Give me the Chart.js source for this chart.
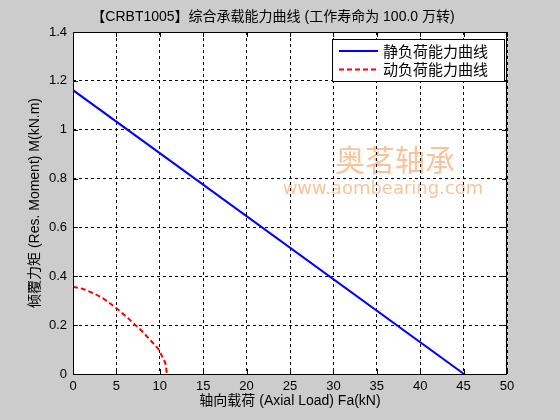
<!DOCTYPE html>
<html>
<head>
<meta charset="utf-8">
<script src="https://cdn.jsdelivr.net/npm/chart.js@4.4.1/dist/chart.umd.min.js"></script>
<style>
  html, body { margin: 0; padding: 0; background: #cccccc; }
  #wrap { width: 560px; height: 420px; }
</style>
</head>
<body>
<div id="wrap"><canvas id="chart" width="560" height="420"></canvas></div>
<script>
const titleText = '【CRBT1005】综合承载能力曲线 (工作寿命为 100.0 万转)';
const xTitle = '轴向载荷 (Axial Load) Fa(kN)';
const yTitle = '倾覆力矩 (Res. Moment) M(kN.m)';
const seriesLabels = ['静负荷能力曲线', '动负荷能力曲线'];

const xTicks = [0, 5, 10, 15, 20, 25, 30, 35, 40, 45, 50];
const yTicks = [0, 0.2, 0.4, 0.6, 0.8, 1, 1.2, 1.4];

// static load curve (straight line)
const staticLoad = [0, 45.05];
const staticMoment = [1.162, 0];

// dynamic load curve
const dynamicLoad = [0, 1.15, 2.1, 3.0, 3.85, 5.0, 6.35, 7.2, 7.9, 9.0, 9.9, 10.37, 10.68, 10.82];
const dynamicMoment = [0.357, 0.348, 0.334, 0.319, 0.300, 0.269, 0.228, 0.200, 0.177, 0.135, 0.098, 0.064, 0.037, 0];

const latinCjk = "'Liberation Sans', 'Noto Sans CJK SC', sans-serif";
const textColor = '#000000';

function toPoints(xs, ys) {
  return xs.map((x, i) => ({ x: x, y: ys[i] }));
}

// white plot area + watermark, grid is drawn on top of it
const backdropPlugin = {
  id: 'backdrop',
  beforeDraw(chart) {
    const { ctx, chartArea: a } = chart;
    ctx.save();
    ctx.fillStyle = '#ffffff';
    ctx.fillRect(a.left, a.top, a.right - a.left, a.bottom - a.top);
    ctx.fillStyle = '#f9c49c';
    ctx.textAlign = 'center';
    ctx.textBaseline = 'middle';
    ctx.font = "30px 'Noto Sans CJK SC', sans-serif";
    ctx.fillText('奥茗轴承', 395, 160);
    ctx.font = "18px 'DejaVu Sans', sans-serif";
    ctx.fillText('www.aombearing.com', 383, 189);
    ctx.restore();
  }
};

// box, inward ticks, title and legend
const framePlugin = {
  id: 'frame',
  afterDraw(chart) {
    const { ctx, chartArea: a, scales } = chart;
    ctx.save();
    ctx.strokeStyle = '#000000';
    ctx.lineWidth = 1;
    ctx.setLineDash([]);
    ctx.strokeRect(a.left + 0.5, a.top + 0.5, a.right - a.left - 1, a.bottom - a.top);

    const tl = 5;
    ctx.beginPath();
    xTicks.forEach(v => {
      const px = Math.round(scales.x.getPixelForValue(v)) + 0.5;
      ctx.moveTo(px, a.bottom); ctx.lineTo(px, a.bottom - tl);
      ctx.moveTo(px, a.top); ctx.lineTo(px, a.top + tl);
    });
    yTicks.forEach(v => {
      const py = Math.round(scales.y.getPixelForValue(v)) + 0.5;
      ctx.moveTo(a.left, py); ctx.lineTo(a.left + tl, py);
      ctx.moveTo(a.right, py); ctx.lineTo(a.right - tl, py);
    });
    ctx.stroke();

    // title
    ctx.fillStyle = textColor;
    ctx.font = "14px " + latinCjk;
    ctx.textAlign = 'center';
    ctx.textBaseline = 'middle';
    ctx.fillText(titleText, 273, 17);

    // legend
    const lx = 332, ly = 39, lw = 172, lh = 42;
    ctx.fillStyle = '#ffffff';
    ctx.fillRect(lx, ly, lw, lh);
    ctx.strokeRect(lx + 0.5, ly + 0.5, lw, lh);
    chart.data.datasets.forEach((ds, i) => {
      const y = 51 + i * 18.5;
      ctx.strokeStyle = ds.borderColor;
      ctx.lineWidth = 2;
      ctx.setLineDash(ds.borderDash || []);
      ctx.beginPath();
      ctx.moveTo(339, y); ctx.lineTo(378, y);
      ctx.stroke();
      ctx.setLineDash([]);
      ctx.fillStyle = textColor;
      ctx.textAlign = 'left';
      ctx.font = "15px 'Noto Sans CJK SC', sans-serif";
      ctx.fillText(ds.label, 383, y);
    });
    ctx.restore();
  }
};

const tickLabel = v => String(+Number(v).toFixed(1));

const ctx = document.getElementById('chart').getContext('2d');
new Chart(ctx, {
  type: 'line',
  data: {
    datasets: [{
      label: seriesLabels[0],
      data: toPoints(staticLoad, staticMoment),
      borderColor: '#0000ff',
      borderWidth: 2,
      pointRadius: 0,
      fill: false
    }, {
      label: seriesLabels[1],
      data: toPoints(dynamicLoad, dynamicMoment),
      borderColor: '#ff0000',
      borderWidth: 2,
      borderDash: [5, 3],
      pointRadius: 0,
      cubicInterpolationMode: 'monotone',
      fill: false
    }]
  },
  options: {
    responsive: false,
    animation: false,
    devicePixelRatio: 1,
    layout: { padding: { top: 32, right: 53, left: 0, bottom: 0 } },
    plugins: {
      legend: { display: false },
      title: { display: false },
      tooltip: { enabled: false }
    },
    scales: {
      x: {
        type: 'linear',
        min: 0,
        max: 50,
        afterBuildTicks: s => { s.ticks = xTicks.map(v => ({ value: v })); },
        afterFit: s => { s.height = 46; },
        border: { display: false, dash: [3, 3] },
        grid: { color: '#000000', lineWidth: 1, drawTicks: false },
        ticks: { color: textColor, padding: 5, maxRotation: 0, callback: tickLabel, font: { family: latinCjk, size: 13 } },
        title: {
          display: true,
          text: xTitle,
          color: textColor,
          font: { family: latinCjk, size: 14 },
          padding: { top: 0, bottom: 10 }
        }
      },
      y: {
        type: 'linear',
        min: 0,
        max: 1.4,
        afterBuildTicks: s => { s.ticks = yTicks.map(v => ({ value: v })); },
        afterFit: s => { s.width = 73; },
        border: { display: false, dash: [3, 3] },
        grid: { color: '#000000', lineWidth: 1, drawTicks: false },
        ticks: { color: textColor, padding: 6, callback: tickLabel, font: { family: latinCjk, size: 13 } },
        title: {
          display: true,
          text: yTitle,
          color: textColor,
          font: { family: latinCjk, size: 14 },
          padding: { top: 27, bottom: 0 }
        }
      }
    }
  },
  plugins: [backdropPlugin, framePlugin]
});
</script>
</body>
</html>
